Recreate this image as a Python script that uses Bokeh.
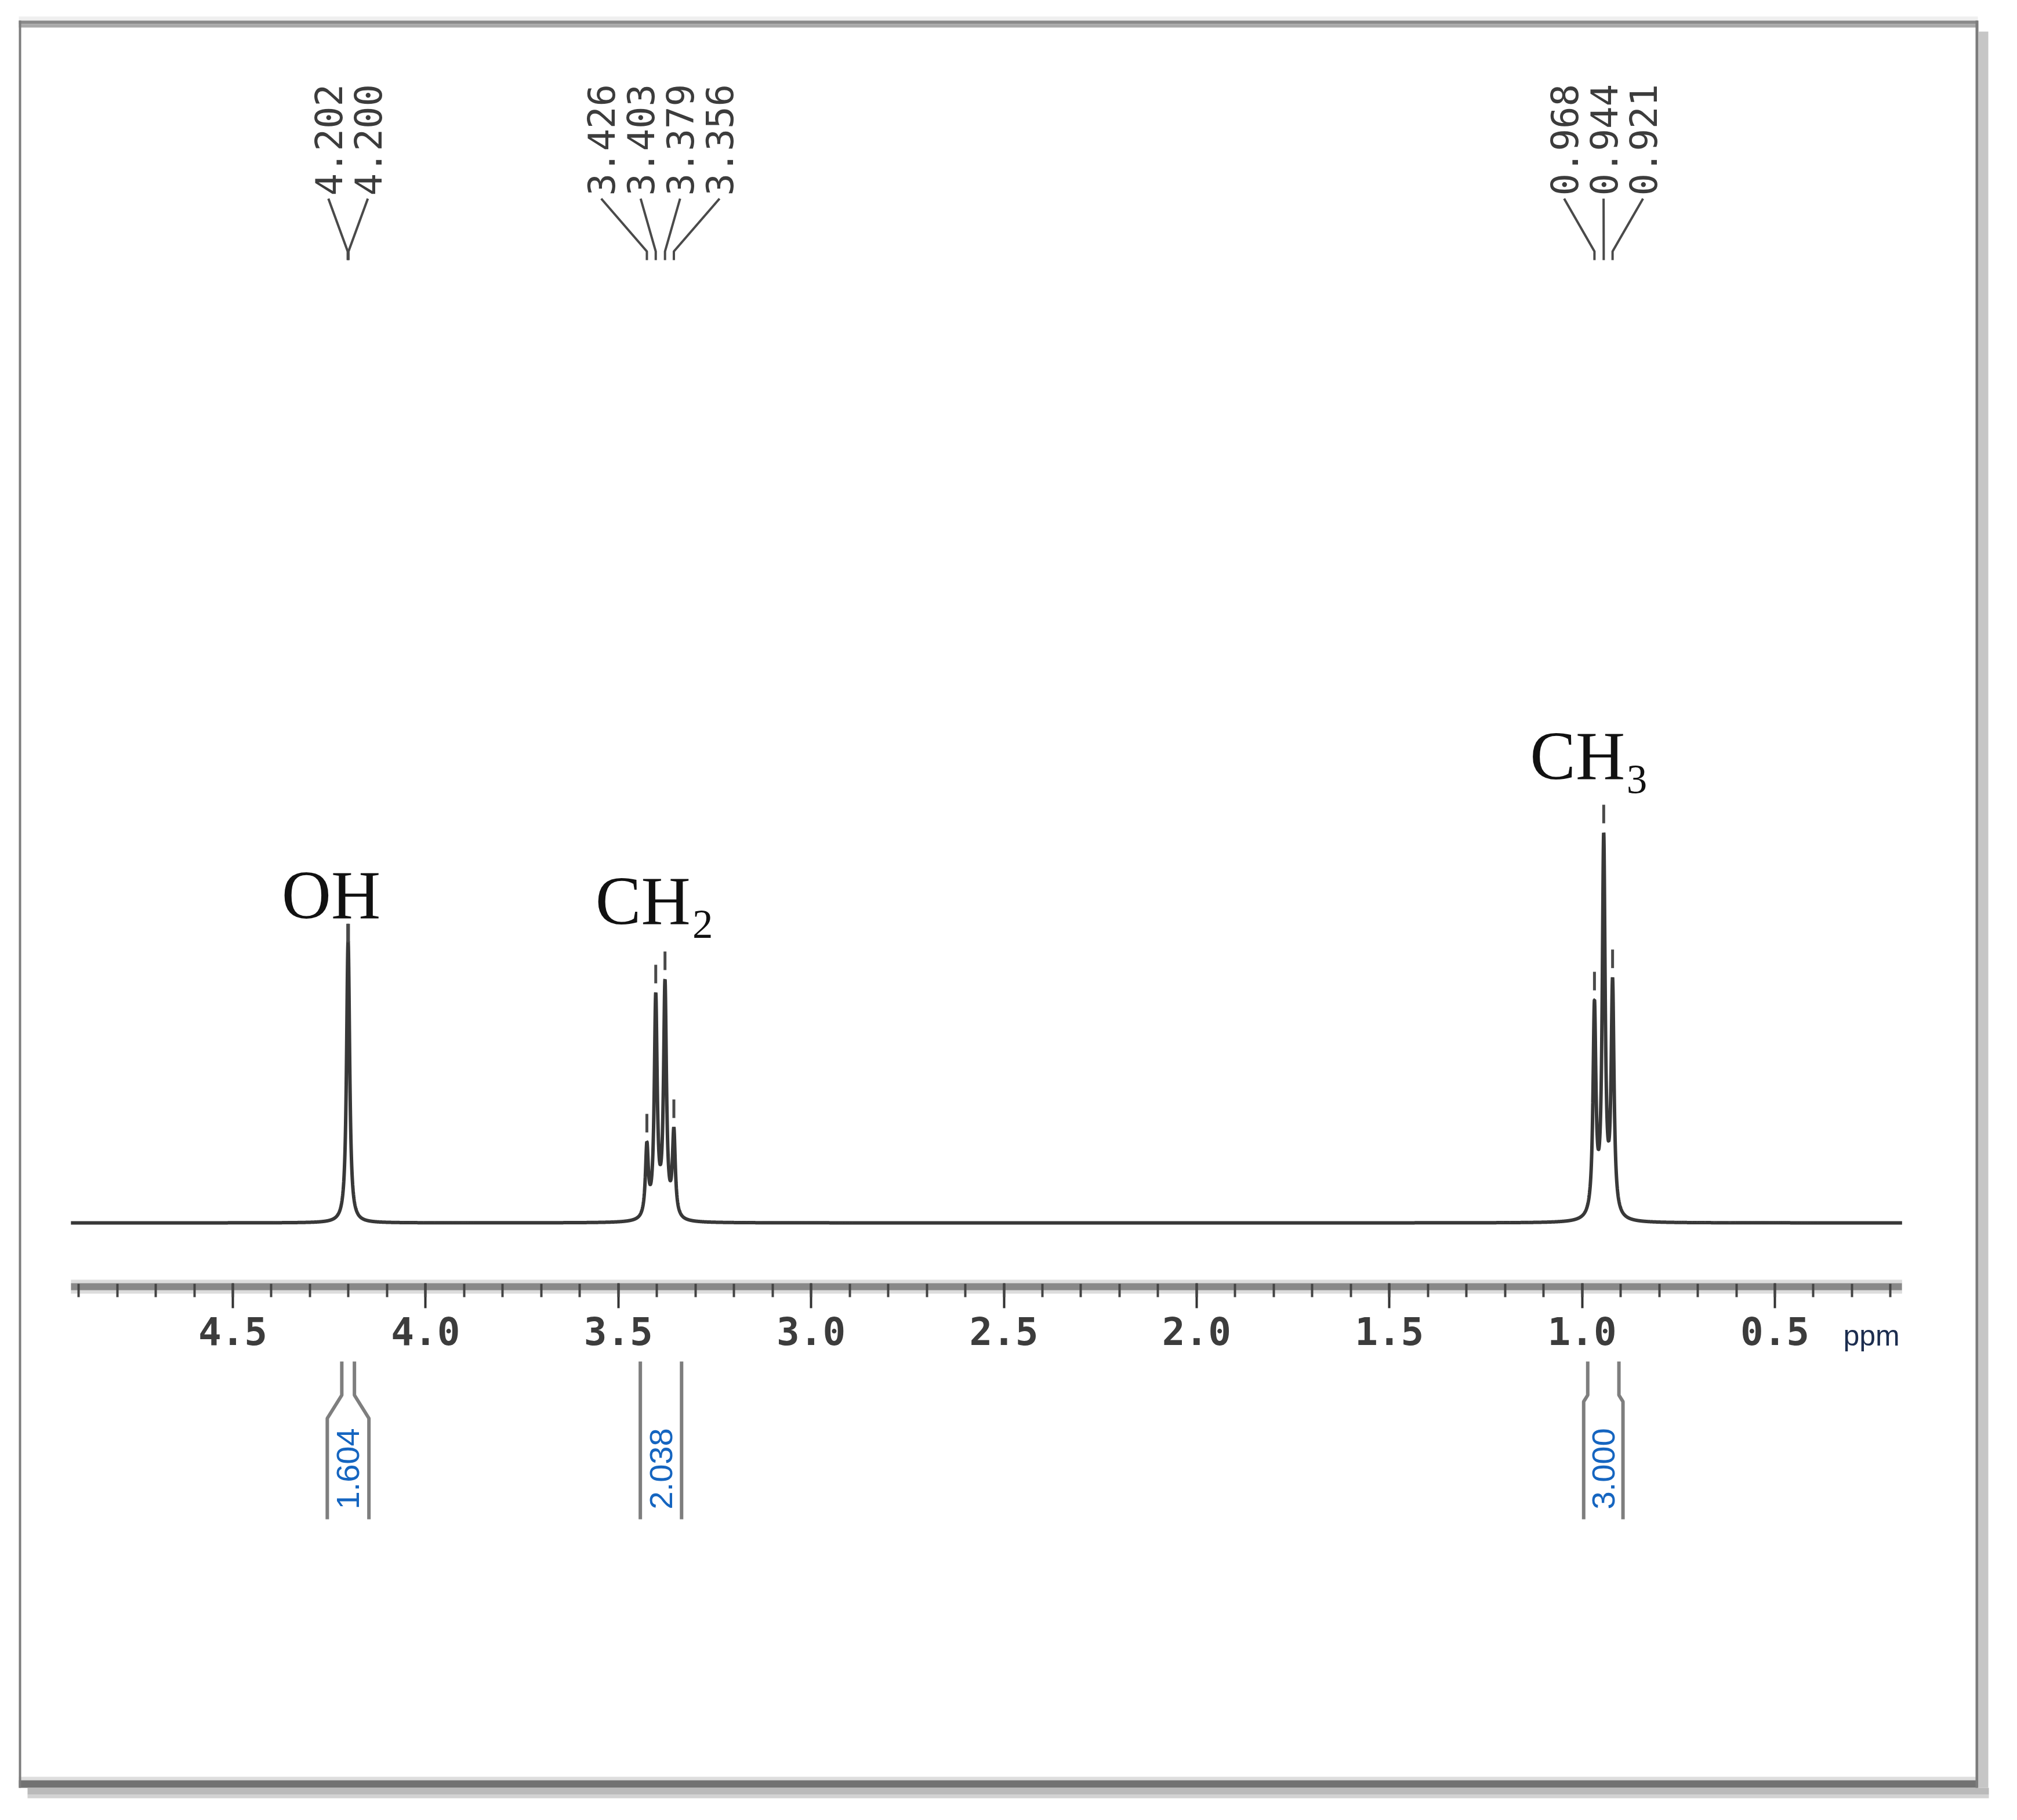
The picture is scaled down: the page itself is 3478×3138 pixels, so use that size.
import numpy as np
from bokeh.plotting import figure
from bokeh.models import Range1d, LinearAxis, SingleIntervalTicker, PrintfTickFormatter
from bokeh.core.properties import value
from bokeh.embed import file_html
from bokeh.resources import INLINE

# ---------------- data ----------------
peak_ppm = [4.202, 4.200, 3.426, 3.403, 3.379, 3.356, 0.968, 0.944, 0.921]
peak_labels = ["4.202", "4.200", "3.426", "3.403", "3.379", "3.356", "0.968", "0.944", "0.921"]
peak_height = [69.5, 69.5, 20.8, 59.0, 62.4, 24.5, 57.2, 100.0, 62.9]   # apparent heights (CH3 centre = 100)

group_names = ["OH", "CH\u2082", "CH\u2083"]
group_peaks = [[0, 1], [2, 3, 4, 5], [6, 7, 8]]
group_label_ppm = [4.245, 3.405, 0.981]
group_label_height = [84.0, 82.4, 119.6]

integral_values = ["1.604", "2.038", "3.000"]
integral_from = [4.255, 3.443, 0.996]
integral_to = [4.147, 3.336, 0.894]

axis_from, axis_to = 4.92, 0.17
major_tick_step = 0.5
minor_ticks_per_major = 5
unit_label = "ppm"

# ---------------- geometry helpers (reference pixels -> data) ----------------
W, H, OFF = 3462, 3122, 8
PX_PER_PPM = 664.75
X_REF_45 = 409.0
Y_BASE = 2116.0
PX_PER_UNIT = 6.73


def xd(xr):
    return 4.5 - (xr - X_REF_45) / PX_PER_PPM


def yd(yr):
    return (Y_BASE - yr) / PX_PER_UNIT


def dxp(px):
    return px / PX_PER_PPM


def dyp(px):
    return px / PX_PER_UNIT


p = figure(width=W, height=H,
           x_range=Range1d(xd(OFF), xd(OFF + W)),
           y_range=Range1d(yd(OFF + H), yd(OFF)),
           x_axis_type=None, y_axis_type=None,
           toolbar_location=None, output_backend="svg",
           min_border=0, outline_line_color=None,
           background_fill_color="white", border_fill_color="white")

# ---------------- frame of the picture ----------------
frame_rects = [
    (40, 3418, 36, 43, "#efefef"),
    (40, 3418, 43, 49, "#8a8a8a"),
    (40, 3418, 49, 55, "#a9a9a9"),
    (40, 3418, 3071, 3077, "#dedede"),
    (40, 3418, 3077, 3090, "#727272"),
    (55, 3437, 3090, 3102, "#bababa"),
    (55, 3437, 3102, 3108, "#d2d2d2"),
    (40, 44, 43, 3090, "#7c7c7c"),
    (3414, 3419, 43, 3090, "#7c7c7c"),
    (3419, 3436, 62, 3090, "#c6c6c6"),
]
for x0, x1, y0, y1, c in frame_rects:
    p.quad(left=xd(x0), right=xd(x1), top=yd(y0), bottom=yd(y1),
           fill_color=c, line_color=None)

# ---------------- spectrum trace (Lorentzian lines at the read peaks) ----------------
pp = np.array(peak_ppm)
hh = np.array(peak_height)
gamma = 0.0045
A = 1.0 / (1.0 + ((pp[:, None] - pp[None, :]) / gamma) ** 2)
amp = np.linalg.solve(A, hh)
xs = np.arange(axis_from, axis_to, -0.0003)
ys = np.zeros_like(xs)
for c, a in zip(pp, amp):
    ys += a / (1.0 + ((xs - c) / gamma) ** 2)
p.line(xs, ys, line_color="#383838", line_width=6)

# peak-pick markers above each line
p.segment(x0=pp, y0=hh + dyp(16), x1=pp, y1=hh + dyp(48),
          line_color="#4a4a4a", line_width=5)

# ---------------- peak labels with fan lines ----------------
lab_x, fan_xs, fan_ys = [], [], []
for members in group_peaks:
    centre = np.mean([peak_ppm[i] for i in members])
    n = len(members)
    for k, i in enumerate(members):
        lx = centre + ((n - 1) / 2 - k) * dxp(68)
        lab_x.append(lx)
        fan_xs.append([lx, peak_ppm[i], peak_ppm[i]])
        fan_ys.append([yd(350), yd(441), yd(456)])
p.multi_line(xs=fan_xs, ys=fan_ys, line_color="#4a4a4a", line_width=4)
p.text(x=lab_x, y=[yd(345)] * len(lab_x), text=peak_labels, angle=np.pi / 2,
       text_align="left", text_baseline="middle",
       text_font=value("DejaVu Sans Mono"), text_font_size="64px",
       text_color="#3c3c3c")

# ---------------- group labels ----------------
p.text(x=group_label_ppm, y=group_label_height, text=group_names,
       text_align="center", text_baseline="alphabetic",
       text_font=value("Liberation Serif"), text_font_size="118px",
       text_color="#111111")

# ---------------- ppm axis ----------------
p.segment(x0=[axis_from], x1=[axis_to], y0=[yd(2226)], y1=[yd(2226)],
          line_color="#dcdcdc", line_width=24)
ax = LinearAxis(fixed_location=yd(2226),
                ticker=SingleIntervalTicker(interval=major_tick_step,
                                            num_minor_ticks=minor_ticks_per_major),
                formatter=PrintfTickFormatter(format="%.1f"),
                bounds=(axis_to, axis_from))
ax.axis_line_width = 12
ax.axis_line_color = "#888888"
ax.major_tick_in = 6
ax.major_tick_out = 37
ax.major_tick_line_width = 4
ax.major_tick_line_color = "#333333"
ax.minor_tick_in = 5
ax.minor_tick_out = 18
ax.minor_tick_line_width = 4
ax.minor_tick_line_color = "#444444"
ax.major_label_standoff = 14
ax.major_label_text_font = "DejaVu Sans Mono"
ax.major_label_text_font_style = "bold"
ax.major_label_text_font_size = "66px"
ax.major_label_text_color = "#3c3c3c"
p.add_layout(ax, "below")

p.text(x=[xd(3186)], y=[yd(2310)], text=[unit_label],
       text_align="left", text_baseline="alphabetic",
       text_font=value("Liberation Sans"), text_font_size="50px",
       text_color="#1c2d4f")

# ---------------- integrals ----------------
int_xs, int_ys = [], []
neck_px = [25, 0, 7]
for a, b, nk in zip(integral_from, integral_to, neck_px):
    flare = 1.6 * nk
    int_xs.append([a - dxp(nk), a - dxp(nk), a, a])
    int_ys.append([yd(2355), yd(2413), yd(2413 + flare), yd(2627)])
    int_xs.append([b + dxp(nk), b + dxp(nk), b, b])
    int_ys.append([yd(2355), yd(2413), yd(2413 + flare), yd(2627)])
p.multi_line(xs=int_xs, ys=int_ys, line_color="#7e7e7e", line_width=6)
p.text(x=[(a + b) / 2 for a, b in zip(integral_from, integral_to)],
       y=[yd(2540)] * len(integral_values), text=integral_values, angle=np.pi / 2,
       text_align="center", text_baseline="middle",
       text_font=value("Liberation Sans"), text_font_size="56px",
       text_color="#1565c0")

open("out.html", "w").write(file_html(p, INLINE))
